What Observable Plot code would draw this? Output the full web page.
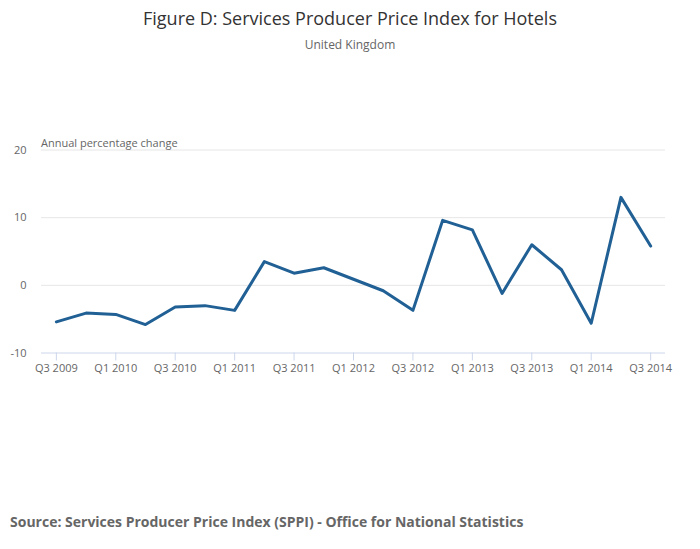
<!DOCTYPE html>
<html>
<head>
<meta charset="utf-8">
<script src="https://cdn.jsdelivr.net/npm/d3@7"></script>
<script src="https://cdn.jsdelivr.net/npm/@observablehq/plot@0.6"></script>
<style>
  html, body { margin: 0; padding: 0; background: #fff; }
  #wrap { position: relative; width: 700px; height: 549px; font-family: "Open Sans", sans-serif; overflow: hidden; }
  .abs { position: absolute; white-space: nowrap; }
  #title { top: 9px; left: 0; width: 700px; text-align: center; font-size: 18px; line-height: 18px; color: #333333; }
  #subtitle { top: 39px; left: 0; width: 700px; text-align: center; font-size: 12px; line-height: 12px; color: #666666; }
  #ylabel { top: 137px; left: 41px; font-size: 11px; line-height: 11px; color: #666666; }
  #source { top: 515px; left: 10px; font-size: 14px; line-height: 14px; font-weight: bold; color: #666666; }
  #chart { position: absolute; top: 0; left: 0; }
</style>
</head>
<body>
<div id="wrap">
  <div id="chart"></div>
  <div id="title" class="abs">Figure D: Services Producer Price Index for Hotels</div>
  <div id="subtitle" class="abs">United Kingdom</div>
  <div id="ylabel" class="abs">Annual percentage change</div>
  <div id="source" class="abs">Source: Services Producer Price Index (SPPI) - Office for National Statistics</div>
</div>
<script>
const quarters = [
  "Q3 2009","Q4 2009","Q1 2010","Q2 2010","Q3 2010","Q4 2010","Q1 2011","Q2 2011",
  "Q3 2011","Q4 2011","Q1 2012","Q2 2012","Q3 2012","Q4 2012","Q1 2013","Q2 2013",
  "Q3 2013","Q4 2013","Q1 2014","Q2 2014","Q3 2014"
];
const values = [
  -5.4, -4.1, -4.3, -5.8, -3.2, -3.0, -3.7, 3.5,
  1.8, 2.6, 0.9, -0.8, -3.7, 9.6, 8.2, -1.2,
  6.0, 2.3, -5.6, 13.0, 5.8
];
const yTicks = [-10, 0, 10, 20];
const xTickLabels = quarters.filter((d, i) => i % 2 === 0);

const data = quarters.map((q, i) => ({quarter: q, value: values[i]}));

const chart = Plot.plot({
  width: 700,
  height: 549,
  marginTop: 149.5,
  marginBottom: 196.5,
  marginLeft: 41,
  marginRight: 35,
  style: {fontFamily: "Open Sans, sans-serif", fontSize: "11px", background: "transparent"},
  x: {type: "point", domain: quarters, padding: 0.5, round: false},
  y: {domain: [-10, 20]},
  marks: [
    Plot.ruleY(yTicks.filter(d => d !== -10), {stroke: "#e6e6e6", strokeWidth: 1}),
    Plot.ruleY([-10], {stroke: "#ccd6eb", strokeWidth: 1}),
    Plot.axisY({ticks: yTicks, tickSize: 0, tickPadding: 15, label: null, fill: "#666666", fontSize: 11, tickFormat: d => String(d)}),
    Plot.axisX({ticks: xTickLabels, tickSize: 8, tickPadding: 3, label: null, stroke: "#ccd6eb", fill: "#666666", fontSize: 11}),
    Plot.line(data, {x: "quarter", y: "value", stroke: "#206095", strokeWidth: 3, strokeLinejoin: "round", strokeLinecap: "round"})
  ]
});
document.getElementById("chart").appendChild(chart);
</script>
</body>
</html>
